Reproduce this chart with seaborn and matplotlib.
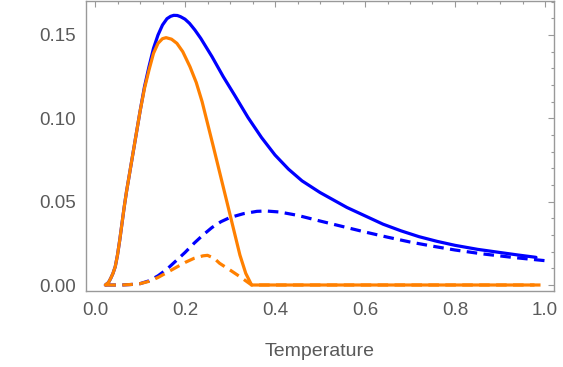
import matplotlib
matplotlib.use('Agg')
import matplotlib.pyplot as plt
import seaborn as sns
from matplotlib.ticker import MultipleLocator

# Values
blue_solid_x = [0.023, 0.030, 0.035, 0.040, 0.045, 0.050, 0.055, 0.060, 0.065, 0.070, 0.080, 0.090,
                0.100, 0.110, 0.120, 0.130, 0.140, 0.150, 0.160, 0.168, 0.175, 0.183, 0.190,
                0.200, 0.210, 0.222, 0.235, 0.260, 0.285, 0.310, 0.340, 0.370, 0.400,
                0.430, 0.460, 0.500, 0.530, 0.560, 0.600, 0.640, 0.680, 0.720, 0.760,
                0.800, 0.850, 0.900, 0.940, 0.980]
blue_solid_y = [0.000, 0.0015, 0.004, 0.007, 0.011, 0.018, 0.027, 0.037, 0.047, 0.056, 0.072, 0.088,
                0.104, 0.119, 0.131, 0.142, 0.150, 0.156, 0.1598, 0.1612, 0.1618, 0.1617, 0.161,
                0.1595, 0.157, 0.153, 0.148, 0.137, 0.125, 0.114, 0.1005, 0.0885, 0.078,
                0.0695, 0.0625, 0.0555, 0.051, 0.0465, 0.0415, 0.0365, 0.0325, 0.029, 0.0262,
                0.0238, 0.0214, 0.0195, 0.018, 0.0166]

orange_solid_x = [0.023, 0.030, 0.035, 0.040, 0.045, 0.050, 0.055, 0.060, 0.065, 0.070, 0.080, 0.090,
                  0.100, 0.110, 0.120, 0.130, 0.140, 0.150, 0.158, 0.170, 0.182, 0.195,
                  0.211, 0.225, 0.238, 0.263, 0.293, 0.322, 0.335, 0.348, 0.975]
orange_solid_y = [0.000, 0.0015, 0.004, 0.007, 0.011, 0.018, 0.027, 0.037, 0.047, 0.056, 0.072, 0.088,
                  0.104, 0.118, 0.129, 0.139, 0.145, 0.1478, 0.1484, 0.1475, 0.145, 0.140,
                  0.131, 0.1215, 0.110, 0.083, 0.050, 0.018, 0.007, 0.000, 0.000]

blue_dash_x = [0.023, 0.060, 0.080, 0.100, 0.120, 0.140, 0.160, 0.180, 0.200, 0.220, 0.240,
               0.260, 0.280, 0.300, 0.330, 0.360, 0.380, 0.410, 0.450, 0.500, 0.550,
               0.600, 0.650, 0.700, 0.750, 0.800, 0.860, 0.930, 1.000]
blue_dash_y = [0.000, 0.000, 0.0003, 0.0008, 0.0025, 0.0055, 0.0095, 0.0145, 0.0195, 0.025, 0.030,
               0.0345, 0.038, 0.0405, 0.0428, 0.0442, 0.0444, 0.0438, 0.0418, 0.0384, 0.0351,
               0.0318, 0.0287, 0.0258, 0.0233, 0.021, 0.0187, 0.0165, 0.0146]

orange_dash_x = [0.023, 0.060, 0.080, 0.100, 0.120, 0.140, 0.160, 0.180, 0.200, 0.220, 0.240,
                 0.250, 0.265, 0.277, 0.300, 0.322, 0.348, 1.000]
orange_dash_y = [0.000, 0.000, 0.0003, 0.0008, 0.0022, 0.0045, 0.0075, 0.0105, 0.0135, 0.016, 0.0175,
                 0.0178, 0.016, 0.013, 0.009, 0.005, 0.000, 0.000]

BLUE = '#0000FF'
ORANGE = '#FF8000'
GRAY = '#999999'
TEXT = '#5a5a5a'

sns.set_style('white')
plt.rcParams['font.family'] = ['Liberation Sans', 'DejaVu Sans']

fig = plt.figure(figsize=(5.63, 3.67), dpi=100)
ax = fig.add_axes([86 / 563, 1 - 291 / 367, 468 / 563, 290 / 367])

lw = 2.3
sns.lineplot(x=blue_solid_x, y=blue_solid_y, color=BLUE, lw=lw, sort=False, ax=ax)
sns.lineplot(x=blue_dash_x, y=blue_dash_y, color=BLUE, lw=lw, sort=False, ax=ax)
ax.lines[-1].set_dashes((3.3, 2.0))
sns.lineplot(x=orange_solid_x, y=orange_solid_y, color=ORANGE, lw=lw, sort=False, ax=ax)
sns.lineplot(x=orange_dash_x, y=orange_dash_y, color=ORANGE, lw=lw, sort=False, ax=ax)
ax.lines[-1].set_dashes((3.3, 2.0))

ax.set_xlim(-0.02, 1.02)
ax.set_ylim(-0.0036, 0.1704)

ax.xaxis.set_major_locator(MultipleLocator(0.2))
ax.xaxis.set_minor_locator(MultipleLocator(0.05))
ax.yaxis.set_major_locator(MultipleLocator(0.05))
ax.yaxis.set_minor_locator(MultipleLocator(0.01))
ax.xaxis.set_major_formatter(plt.FuncFormatter(lambda v, p: f'{v:.1f}'))
ax.yaxis.set_major_formatter(plt.FuncFormatter(lambda v, p: f'{v:.2f}'))

for s in ax.spines.values():
    s.set_color(GRAY)
    s.set_linewidth(1.0)

ax.tick_params(which='both', direction='in', top=True, right=True, color=GRAY,
               labelcolor=TEXT, labelsize=13.5, width=0.8)
ax.tick_params(which='major', length=4.5)
ax.tick_params(which='minor', length=2.5)
ax.tick_params(axis='x', which='major', pad=8)
ax.tick_params(axis='y', which='major', pad=7)

ax.set_xlabel('Temperature', fontsize=14, color=TEXT, labelpad=17)
ax.set_ylabel('')

fig.savefig('out.png', dpi=100)
plt.close(fig)
